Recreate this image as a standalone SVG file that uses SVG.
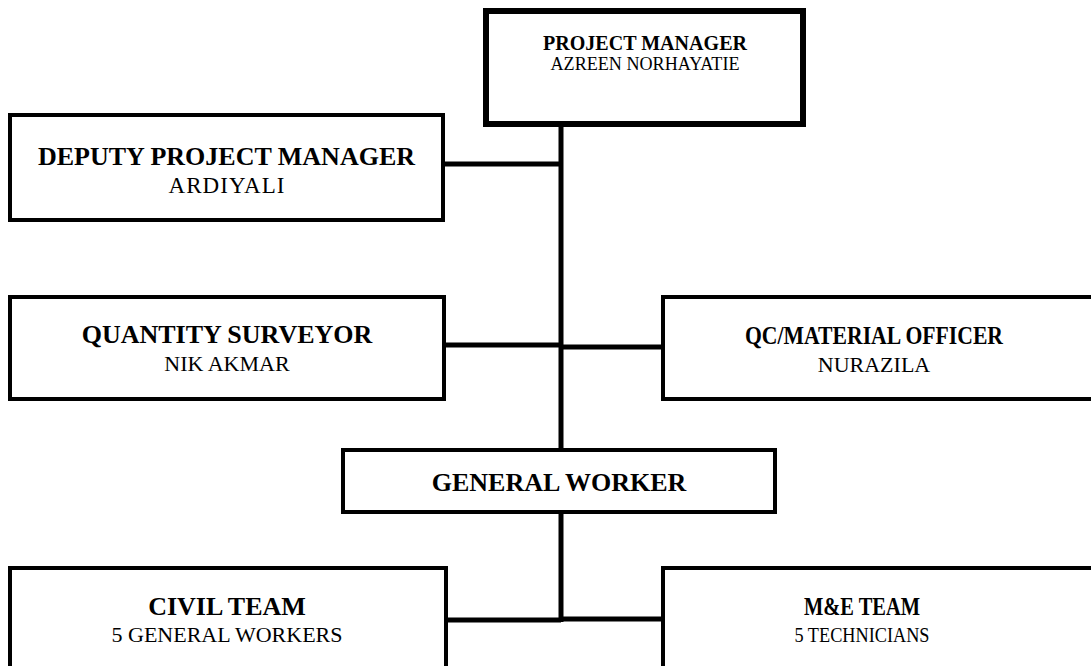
<svg xmlns="http://www.w3.org/2000/svg" width="1091" height="666" viewBox="0 0 1091 666">
  <style>
    .box { fill: #ffffff; stroke: #000000; stroke-width: 4; }
    .box-top { fill: #ffffff; stroke: #000000; stroke-width: 6; }
    text { font-family: "Liberation Serif", "Times New Roman", serif; text-anchor: middle; fill: #000000; }
    .title { font-weight: bold; font-size: 26px; }
    .name { font-size: 22px; }
    .link { fill: none; stroke: #000000; stroke-width: 5; }
  </style>
  <rect width="1091" height="666" fill="#ffffff"/>

  <!-- connectors -->
  <g id="connectors">
    <line class="link" x1="561" y1="126" x2="561" y2="450"/>
    <line class="link" x1="561" y1="512" x2="561" y2="622"/>
    <line class="link" x1="445" y1="164" x2="561" y2="164"/>
    <line class="link" x1="446" y1="345" x2="559" y2="345"/>
    <line class="link" x1="559" y1="347" x2="663" y2="347"/>
    <line class="link" x1="446" y1="620" x2="561" y2="620"/>
    <line class="link" x1="561" y1="619" x2="663" y2="619"/>
  </g>

  <g id="project-manager">
    <rect class="box-top" x="486" y="11" width="317" height="113"/>
    <text class="title" x="645" y="50" style="font-size:22px" textLength="204" lengthAdjust="spacingAndGlyphs">PROJECT MANAGER</text>
    <text class="name" x="645" y="70" style="font-size:19px" textLength="189" lengthAdjust="spacingAndGlyphs">AZREEN NORHAYATIE</text>
  </g>

  <g id="deputy-project-manager">
    <rect class="box" x="10" y="115" width="433" height="105"/>
    <text class="title" x="226.5" y="165">DEPUTY PROJECT MANAGER</text>
    <text class="name" x="226.5" y="193" style="font-size:23px" textLength="116">ARDIYALI</text>
  </g>

  <g id="quantity-surveyor">
    <rect class="box" x="10" y="297" width="434" height="102"/>
    <text class="title" x="227" y="343">QUANTITY SURVEYOR</text>
    <text class="name" x="227" y="371">NIK AKMAR</text>
  </g>

  <g id="qc-material-officer">
    <rect class="box" x="663" y="297" width="432" height="102"/>
    <text class="title" x="874" y="344" textLength="258" lengthAdjust="spacingAndGlyphs">QC/MATERIAL OFFICER</text>
    <text class="name" x="874" y="372">NURAZILA</text>
  </g>

  <g id="general-worker">
    <rect class="box" x="343" y="450" width="432" height="62"/>
    <text class="title" x="559" y="491">GENERAL WORKER</text>
  </g>

  <g id="civil-team">
    <rect class="box" x="10" y="568" width="436" height="110"/>
    <text class="title" x="227" y="615">CIVIL TEAM</text>
    <text class="name" x="227" y="642">5 GENERAL WORKERS</text>
  </g>

  <g id="me-team">
    <rect class="box" x="663" y="568" width="432" height="110"/>
    <text class="title" x="862" y="615" style="font-size:25px" textLength="116" lengthAdjust="spacingAndGlyphs">M&amp;E TEAM</text>
    <text class="name" x="862" y="642" textLength="135" lengthAdjust="spacingAndGlyphs">5 TECHNICIANS</text>
  </g>
</svg>
